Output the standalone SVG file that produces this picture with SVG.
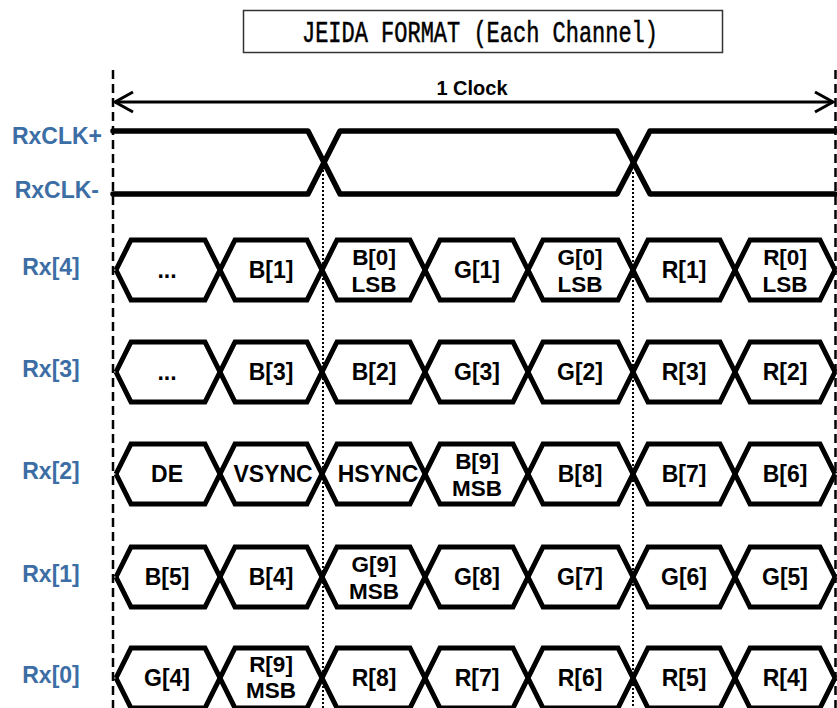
<svg xmlns="http://www.w3.org/2000/svg" xmlns:xlink="http://www.w3.org/1999/xlink" width="837" height="708" viewBox="0 0 837 708">
<style>
.lbl{font-family:"Liberation Sans",Arial,sans-serif;font-weight:bold;font-size:23px;fill:#3C6EA5}
.cell{font-family:"Liberation Sans",Arial,sans-serif;font-weight:bold;font-size:23px;fill:#000;text-anchor:middle}
.cell2{font-family:"Liberation Sans",Arial,sans-serif;font-weight:bold;font-size:22.5px;fill:#000;text-anchor:middle}
.wave{fill:none;stroke:#000;stroke-width:5;stroke-linejoin:miter}
.clk{fill:none;stroke:#000;stroke-width:5.5;stroke-linejoin:round;stroke-linecap:round}
.dash{stroke:#000;stroke-width:2.5;stroke-dasharray:9 5;fill:none}
.dot{stroke:#000;stroke-width:2;stroke-dasharray:2 2;fill:none}
</style>
<defs>
<g id="bus">
<path class="wave" d="M116,0 L131,-30 L205,-30 L235,30 L307,30 L337,-30 L410,-30 L440,30 L513,30 L543,-30 L618,-30 L648,30 L720,30 L750,-30 L820,-30 L835,0"/>
<path class="wave" d="M116,0 L131,30 L205,30 L235,-30 L307,-30 L337,30 L410,30 L440,-30 L513,-30 L543,30 L618,30 L648,-30 L720,-30 L750,30 L820,30 L835,0"/>
</g>
</defs>
<rect width="837" height="708" fill="#fff"/>

<g id="title">
<rect x="243.5" y="10.5" width="479" height="42" fill="#fff" stroke="#333" stroke-width="1.5"/>
<text x="302" y="42" font-family="Liberation Mono,Courier New,monospace" font-size="29" stroke="#000" stroke-width="0.5" textLength="356" lengthAdjust="spacingAndGlyphs">JEIDA FORMAT (Each Channel)</text>
</g>

<g id="connectors">
<line class="dash" x1="113" y1="70" x2="113" y2="708"/>
<line class="dash" x1="835.5" y1="70" x2="835.5" y2="708"/>
<line class="dot" x1="323" y1="170" x2="323" y2="708"/>
<line class="dot" x1="633" y1="172" x2="633" y2="708"/>
<g fill="none" stroke="#000" stroke-width="3">
<line x1="115" y1="102" x2="833" y2="102"/>
<polyline points="133,92 115,102 133,112"/>
<polyline points="815,92 833,102 815,112"/>
</g>
<text x="472" y="95" text-anchor="middle" font-family="Liberation Sans,Arial,sans-serif" font-weight="bold" font-size="20">1 Clock</text>
</g>

<g id="rxclk">
<text class="lbl" x="102" y="144" text-anchor="end">RxCLK+</text>
<text class="lbl" x="99" y="198" text-anchor="end">RxCLK-</text>
<path class="clk" d="M113,131 H308 L340,194 H617 L650,131 H835"/>
<path class="clk" d="M113,194 H308 L340,131 H617 L650,194 H835"/>
</g>

<g id="rx4">
<text class="lbl" x="51" y="275" text-anchor="middle">Rx[4]</text>
<use xlink:href="#bus" transform="translate(0,270)"/>
<text class="cell" x="167" y="278">...</text>
<text class="cell" x="271" y="278">B[1]</text>
<text class="cell2" x="374" y="265">B[0]</text><text class="cell2" x="374" y="292">LSB</text>
<text class="cell" x="477" y="278">G[1]</text>
<text class="cell2" x="580" y="265">G[0]</text><text class="cell2" x="580" y="292">LSB</text>
<text class="cell" x="684" y="278">R[1]</text>
<text class="cell2" x="785" y="265">R[0]</text><text class="cell2" x="785" y="292">LSB</text>
</g>

<g id="rx3">
<text class="lbl" x="51" y="377" text-anchor="middle">Rx[3]</text>
<use xlink:href="#bus" transform="translate(0,372)"/>
<text class="cell" x="167" y="380">...</text>
<text class="cell" x="271" y="380">B[3]</text>
<text class="cell" x="374" y="380">B[2]</text>
<text class="cell" x="477" y="380">G[3]</text>
<text class="cell" x="580" y="380">G[2]</text>
<text class="cell" x="684" y="380">R[3]</text>
<text class="cell" x="785" y="380">R[2]</text>
</g>

<g id="rx2">
<text class="lbl" x="51" y="479" text-anchor="middle">Rx[2]</text>
<use xlink:href="#bus" transform="translate(0,474)"/>
<text class="cell" x="167" y="482">DE</text>
<text class="cell" x="273" y="482">VSYNC</text>
<text class="cell" x="378" y="482">HSYNC</text>
<text class="cell2" x="477" y="469">B[9]</text><text class="cell2" x="477" y="496">MSB</text>
<text class="cell" x="580" y="482">B[8]</text>
<text class="cell" x="684" y="482">B[7]</text>
<text class="cell" x="785" y="482">B[6]</text>
</g>

<g id="rx1">
<text class="lbl" x="51" y="582" text-anchor="middle">Rx[1]</text>
<use xlink:href="#bus" transform="translate(0,577)"/>
<text class="cell" x="167" y="585">B[5]</text>
<text class="cell" x="271" y="585">B[4]</text>
<text class="cell2" x="374" y="572">G[9]</text><text class="cell2" x="374" y="599">MSB</text>
<text class="cell" x="477" y="585">G[8]</text>
<text class="cell" x="580" y="585">G[7]</text>
<text class="cell" x="684" y="585">G[6]</text>
<text class="cell" x="785" y="585">G[5]</text>
</g>

<g id="rx0">
<text class="lbl" x="51" y="683" text-anchor="middle">Rx[0]</text>
<use xlink:href="#bus" transform="translate(0,678)"/>
<text class="cell" x="167" y="686">G[4]</text>
<text class="cell2" x="271" y="672">R[9]</text><text class="cell2" x="271" y="698">MSB</text>
<text class="cell" x="374" y="686">R[8]</text>
<text class="cell" x="477" y="686">R[7]</text>
<text class="cell" x="580" y="686">R[6]</text>
<text class="cell" x="684" y="686">R[5]</text>
<text class="cell" x="785" y="686">R[4]</text>
</g>
</svg>
